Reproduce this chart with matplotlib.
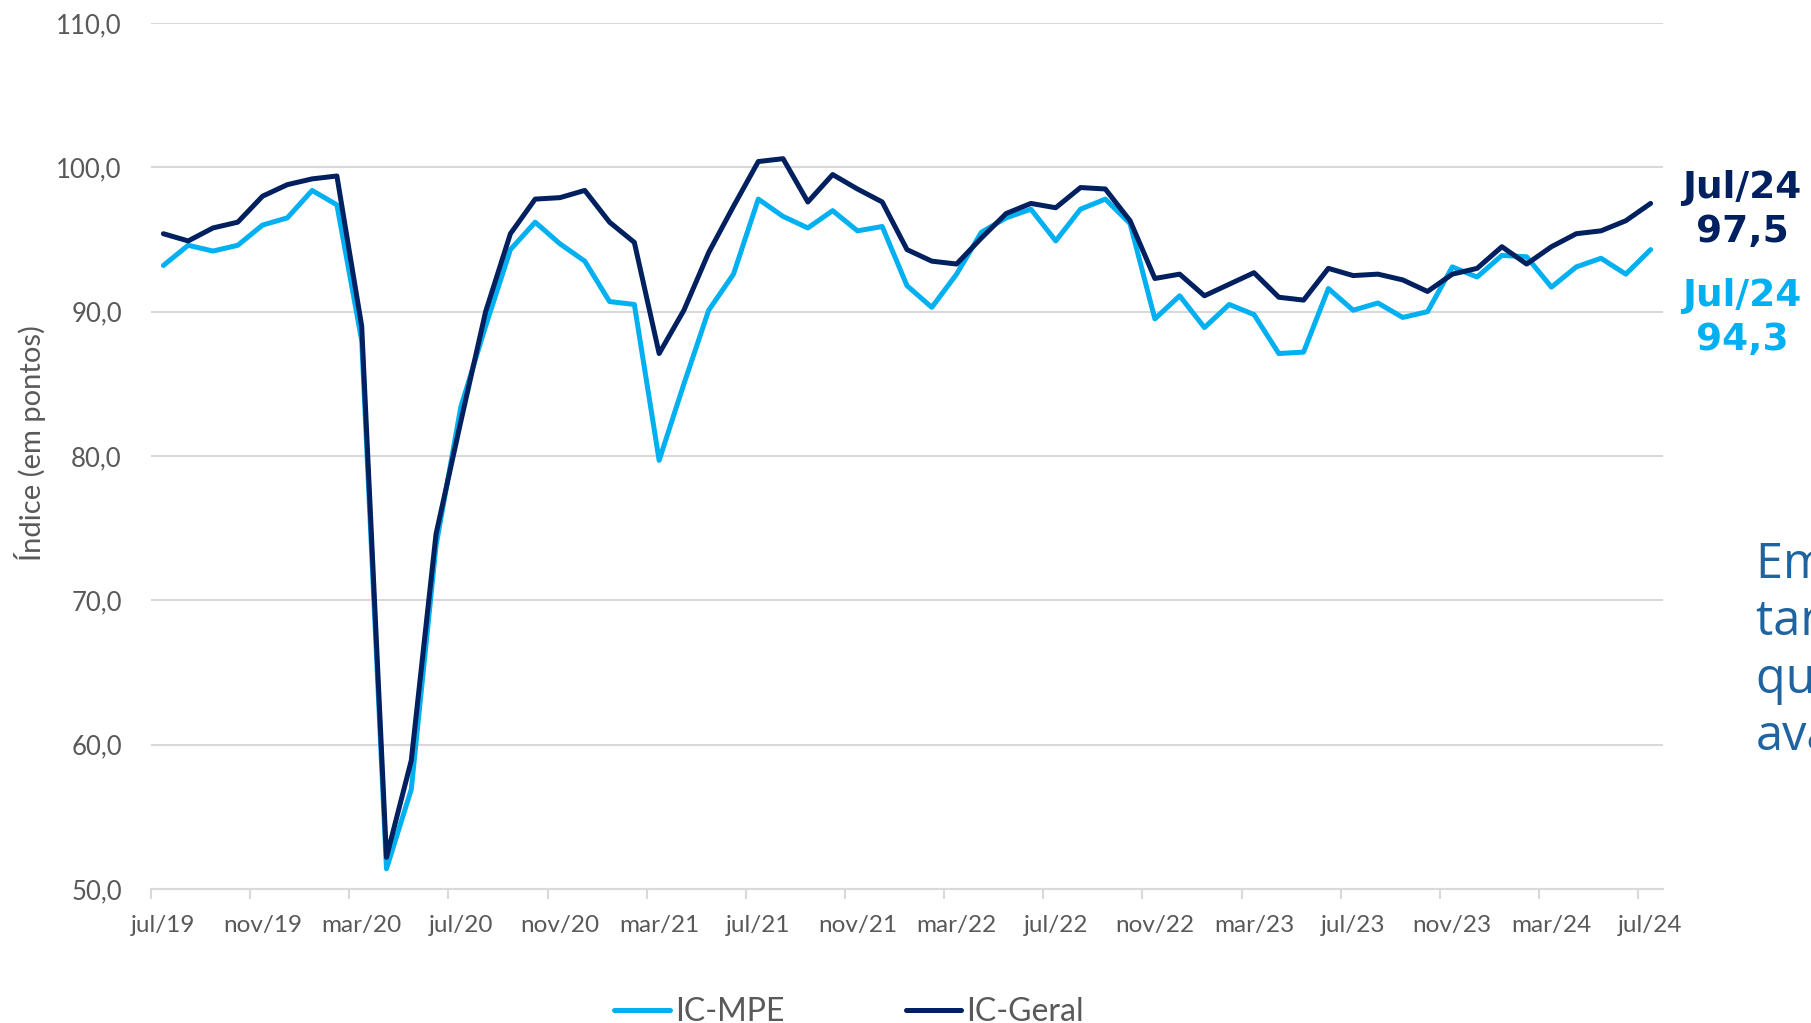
import matplotlib
matplotlib.use('Agg')
import matplotlib.pyplot as plt
from matplotlib.ticker import FixedLocator, FuncFormatter

# dados mensais jul/19 .. jul/24
ic_geral = [95.4, 94.9, 95.8, 96.2, 98.0, 98.8, 99.2, 99.4, 89.0, 52.2,
            58.9, 74.6, 82.4, 90.0, 95.4, 97.8, 97.9, 98.4, 96.2, 94.8,
            87.1, 90.1, 94.1, 97.3, 100.4, 100.6, 97.6, 99.5, 98.5, 97.6,
            94.3, 93.5, 93.3, 95.1, 96.8, 97.5, 97.2, 98.6, 98.5, 96.3,
            92.3, 92.6, 91.1, 91.9, 92.7, 91.0, 90.8, 93.0, 92.5, 92.6,
            92.2, 91.4, 92.6, 93.0, 94.5, 93.3, 94.5, 95.4, 95.6, 96.3,
            97.5]
ic_mpe = [93.2, 94.6, 94.2, 94.6, 96.0, 96.5, 98.4, 97.4, 88.0, 51.4,
          56.9, 73.8, 83.4, 89.0, 94.3, 96.2, 94.7, 93.5, 90.7, 90.5,
          79.7, 85.0, 90.1, 92.6, 97.8, 96.6, 95.8, 97.0, 95.6, 95.9,
          91.8, 90.3, 92.6, 95.5, 96.5, 97.1, 94.9, 97.1, 97.8, 96.1,
          89.5, 91.1, 88.9, 90.5, 89.8, 87.1, 87.2, 91.6, 90.1, 90.6,
          89.6, 90.0, 93.1, 92.4, 93.9, 93.8, 91.7, 93.1, 93.7, 92.6,
          94.3]
tick_labels = ['jul/19', 'nov/19', 'mar/20', 'jul/20', 'nov/20', 'mar/21',
               'jul/21', 'nov/21', 'mar/22', 'jul/22', 'nov/22', 'mar/23',
               'jul/23', 'nov/23', 'mar/24', 'jul/24']
y_ticks = [50, 60, 70, 80, 90, 100, 110]

c_mpe = '#00B0F0'
c_geral = '#002060'
c_grid = '#D9D9D9'
c_text = '#595959'

plt.rcParams['font.family'] = ['Lato', 'DejaVu Sans']

fig = plt.figure(figsize=(18.11, 10.23), dpi=100)
ax = fig.add_axes([151 / 1811, 1 - 889 / 1023, (1663 - 151) / 1811, (889 - 23) / 1023])

x = list(range(len(ic_geral)))
ax.plot(x, ic_mpe, color=c_mpe, lw=3.6, solid_capstyle='round', solid_joinstyle='round', label='IC-MPE')
ax.plot(x, ic_geral, color=c_geral, lw=3.6, solid_capstyle='round', solid_joinstyle='round', label='IC-Geral')

ax.set_xlim(-0.5, len(x) - 0.5)
ax.set_ylim(50, 110)

ax.set_yticks(y_ticks)
ax.yaxis.set_major_formatter(FuncFormatter(lambda v, p: f'{v:.1f}'.replace('.', ',')))
ax.tick_params(axis='y', length=0, pad=21, labelsize=18.5, labelcolor=c_text)
ax.grid(axis='y', color=c_grid, lw=1.5)
ax.set_axisbelow(True)

# rótulos no centro das categorias, marcas nas fronteiras
ax.xaxis.set_major_locator(FixedLocator([i * 4 for i in range(len(tick_labels))]))
ax.set_xticklabels(tick_labels)
ax.xaxis.set_minor_locator(FixedLocator([i * 4 - 0.5 for i in range(len(tick_labels))]))
ax.tick_params(axis='x', which='major', length=0, pad=19, labelsize=17.5, labelcolor=c_text)
ax.tick_params(axis='x', which='minor', length=7, width=1.5, color=c_grid)

for s in ['top', 'left', 'right']:
    ax.spines[s].set_visible(False)
ax.spines['bottom'].set_color(c_grid)
ax.spines['bottom'].set_linewidth(1.5)

fig.text(30 / 1811, 1 - 443 / 1023, 'Índice (em pontos)', rotation=90,
         ha='center', va='center', fontsize=21, color=c_text)

# valores finais
fig.text(1742 / 1811, 1 - 210 / 1023, f"Jul/24\n{ic_geral[-1]:.1f}".replace('.', ','),
         ha='center', va='center', ma='center', fontsize=27, fontweight='bold',
         color=c_geral, family='DejaVu Sans', linespacing=1.3)
fig.text(1742 / 1811, 1 - 318 / 1023, f"Jul/24\n{ic_mpe[-1]:.1f}".replace('.', ','),
         ha='center', va='center', ma='center', fontsize=27, fontweight='bold',
         color=c_mpe, family='DejaVu Sans', linespacing=1.3)

# texto lateral (cortado na borda da imagem, como no original)
side_lines = ['Em julho,', 'tanto o', 'quanto o', 'avançaram']
for i, t in enumerate(side_lines):
    fig.text(1756 / 1811, 1 - (578 + 57.3 * i) / 1023, t, ha='left', va='baseline',
             fontsize=35, color='#1F64A0', family='Open Sans')

leg = fig.legend(loc='center', bbox_to_anchor=(849 / 1811, 1 - 1012 / 1023), ncol=2,
                 frameon=False, fontsize=23, handlelength=1.75, handletextpad=0.15,
                 columnspacing=3.8, labelcolor=c_text)

fig.savefig('out.png', dpi=100)
